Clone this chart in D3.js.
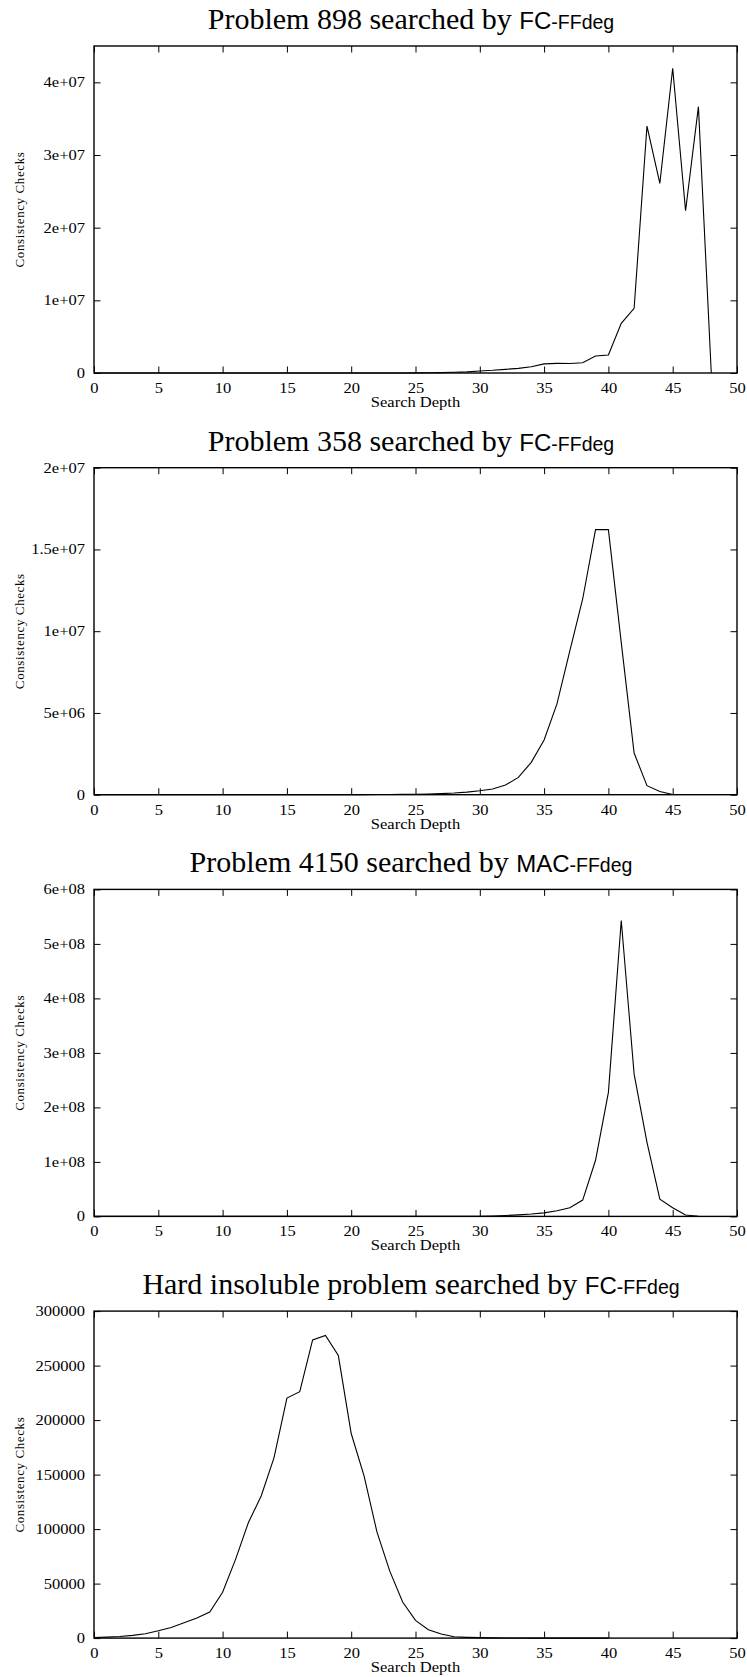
<!DOCTYPE html>
<html><head><meta charset="utf-8">
<script src="https://cdn.jsdelivr.net/npm/d3@7"></script>
<style>body{margin:0;background:#fff}</style>
</head><body>
<svg id="c" width="747" height="1677"></svg>
<script>
// ---------- data ----------
const depthTicks = [0,5,10,15,20,25,30,35,40,45,50];

const depth898 = d3.range(0, 49);
const checks898 = [0,0,0,0,0,0,0,0,0,0, 0,0,0,0,10,20,40,80,150,300,
  600,1200,2500,5000,9000,16000,30000,55000,95000,150000,
  280000,370000,500000,640000,870000,1250000,1330000,1300000,1420000,2340000,
  2480000,6840000,8900000,33990000,26100000,41930000,22330000,36650000,0];
const yTicks898 = [0,1e7,2e7,3e7,4e7];
const yLabels898 = ["0","1e+07","2e+07","3e+07","4e+07"];

const depth358 = d3.range(0, 46);
const checks358 = [0,0,0,0,0,0,0,0,0,0, 0,0,0,0,100,200,400,800,1500,2500,
  4000,6000,9000,13000,20000,30000,45000,68000,100000,155000,
  240000,350000,590000,1060000,1980000,3350000,5550000,8800000,11970000,16210000,
  16210000,9300000,2550000,550000,200000,10000];
const yTicks358 = [0,5e6,1e7,1.5e7,2e7];
const yLabels358 = ["0","5e+06","1e+07","1.5e+07","2e+07"];

const depth4150 = d3.range(0, 48);
const checks4150 = [0,0,0,0,0,0,0,0,0,0, 0,0,0,0,0,0,0,0,0,0,
  0,100,300,800,2000,5000,12000,30000,70000,150000,
  350000,800000,1600000,2800000,4300000,6500000,10500000,16000000,30000000,103000000,
  227500000,543000000,261000000,136000000,31600000,16000000,2700000,300000];
const yTicks4150 = [0,1e8,2e8,3e8,4e8,5e8,6e8];
const yLabels4150 = ["0","1e+08","2e+08","3e+08","4e+08","5e+08","6e+08"];

const depthHard = d3.range(0, 41);
const checksHard = [500,900,1500,2500,4000,6700,9800,14000,18400,23900,
  42000,72000,105800,130400,165600,220200,226100,273600,277600,259200,
  187700,148800,97500,61400,33100,16300,7700,3700,1200,700,
  400,200,100,50,20,10,0,0,0,0,0];
const yTicksHard = [0,50000,100000,150000,200000,250000,300000];
const yLabelsHard = ["0","50000","100000","150000","200000","250000","300000"];

const titlePre = ["Problem 898 searched by ","Problem 358 searched by ","Problem 4150 searched by ","Hard insoluble problem searched by "];
const titleAlgo = ["FC","FC","MAC","FC"];
const titleSuffix = ["-FFdeg","-FFdeg","-FFdeg","-FFdeg"];
const xTitle = "Search Depth";
const yTitle = "Consistency Checks";

// ---------- layout ----------
const charts = [
  {depth: depth898, checks: checks898, ticks: yTicks898, labels: yLabels898, yMax: 4.5e7},
  {depth: depth358, checks: checks358, ticks: yTicks358, labels: yLabels358, yMax: 2e7},
  {depth: depth4150, checks: checks4150, ticks: yTicks4150, labels: yLabels4150, yMax: 6e8},
  {depth: depthHard, checks: checksHard, ticks: yTicksHard, labels: yLabelsHard, yMax: 300000}
];

const svg = d3.select("#c");
const L = 94, R = 737, PH = 327, TOP0 = 46, STEP = 421.7;
const serif = "'Liberation Serif','Times New Roman',serif";
const sans = "'Liberation Sans',Arial,sans-serif";
const TL = 6.5;
const SX = 1.18; // horizontal stretch of the small serif labels

charts.forEach((c, i) => {
  const top = TOP0 + i * STEP, bot = top + PH;
  const x = d3.scaleLinear().domain([0, 50]).range([L, R]);
  const y = d3.scaleLinear().domain([0, c.yMax]).range([bot, top]);
  const g = svg.append("g");

  // title
  const t = g.append("text").attr("x", 411).attr("y", top - 17)
    .attr("text-anchor", "middle").attr("fill", "#000");
  t.append("tspan").style("font-family", serif).attr("font-size", 30).text(titlePre[i]);
  t.append("tspan").style("font-family", sans).attr("font-size", 24).text(titleAlgo[i]);
  t.append("tspan").style("font-family", sans).attr("font-size", 19.5).text(titleSuffix[i]);

  // axes
  const ax = d3.axisBottom(x).tickValues(depthTicks).tickSize(-TL).tickPadding(10);
  const gx = g.append("g").attr("transform", `translate(0,${bot})`).call(ax);
  const axT = d3.axisTop(x).tickValues(depthTicks).tickSize(-TL).tickFormat("");
  const gxt = g.append("g").attr("transform", `translate(0,${top})`).call(axT);
  const ay = d3.axisLeft(y).tickValues(c.ticks).tickSize(-TL).tickPadding(9)
    .tickFormat((d, k) => c.labels[k]);
  const gy = g.append("g").attr("transform", `translate(${L},0)`).call(ay);
  const ayR = d3.axisRight(y).tickValues(c.ticks).tickSize(-TL).tickFormat("");
  const gyr = g.append("g").attr("transform", `translate(${R},0)`).call(ayR);
  [gx, gxt, gy, gyr].forEach(a => {
    a.attr("font-family", null).attr("font-size", null);
    a.select(".domain").remove();
    a.selectAll(".tick line").attr("stroke", "#000").attr("stroke-width", 1);
    a.selectAll("text").style("font-family", serif).style("font-size", "14px").attr("fill", "#000");
  });
  gx.selectAll("text").attr("dy", "0.71em").attr("transform", `scale(${SX},1)`);
  gy.selectAll("text").attr("x", -9 / SX).attr("transform", `scale(${SX},1)`);

  // data line
  const line = d3.line().x((d, k) => x(c.depth[k])).y(d => y(d));
  g.append("path").datum(c.checks).attr("d", line)
    .attr("fill", "none").attr("stroke", "#000").attr("stroke-width", 1.1)
    .attr("stroke-linejoin", "miter");

  // frame
  g.append("rect").attr("x", L).attr("y", top).attr("width", R - L).attr("height", PH)
    .attr("fill", "none").attr("stroke", "#000").attr("stroke-width", 1.4);

  // axis titles
  g.append("text").attr("transform", `translate(${(L + R) / 2},${bot + 34}) scale(${SX},1)`)
    .attr("text-anchor", "middle").style("font-family", serif).style("font-size", "14px")
    .text(xTitle);
  g.append("text").attr("transform", `translate(24,${(top + bot) / 2}) rotate(-90)`)
    .attr("text-anchor", "middle").style("font-family", serif).style("font-size", "13px")
    .attr("letter-spacing", 0.6).text(yTitle);
});
</script>
</body></html>
